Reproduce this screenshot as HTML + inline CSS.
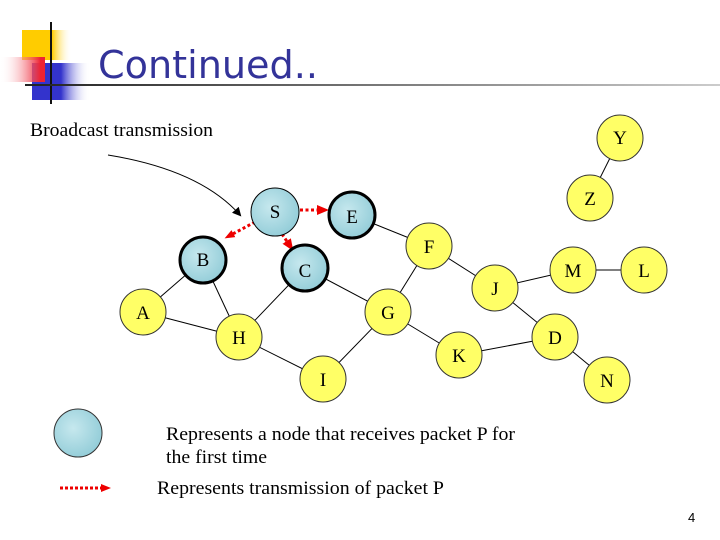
<!DOCTYPE html>
<html><head><meta charset="utf-8"><style>
body{margin:0;width:720px;height:540px;background:#fff;overflow:hidden}
svg{display:block}
</style></head><body>
<svg width="720" height="540" viewBox="0 0 720 540" xmlns="http://www.w3.org/2000/svg">
<defs>
<linearGradient id="yg" x1="0" x2="1"><stop offset="0.6" stop-color="#ffcc00"/><stop offset="1" stop-color="#fff" stop-opacity="0"/></linearGradient>
<linearGradient id="bg" x1="0" x2="1"><stop offset="0.5" stop-color="#3333cc"/><stop offset="1" stop-color="#fff" stop-opacity="0"/></linearGradient>
<linearGradient id="rg" x1="1" x2="0"><stop offset="0.1" stop-color="#ee2233"/><stop offset="1" stop-color="#fff" stop-opacity="0"/></linearGradient>
<linearGradient id="lg" x1="0" x2="1"><stop offset="0" stop-color="#222"/><stop offset="1" stop-color="#ccc"/></linearGradient>
<radialGradient id="cg" cx="0.4" cy="0.4" r="0.7"><stop offset="0" stop-color="#c6e8ee"/><stop offset="1" stop-color="#8ecad6"/></radialGradient>
<marker id="ar" markerUnits="userSpaceOnUse" markerWidth="10" markerHeight="10" refX="5" refY="5" orient="auto"><path d="M0,1 L10,5 L0,9 z" fill="#e00"/></marker>
<marker id="ar2" markerUnits="userSpaceOnUse" markerWidth="12" markerHeight="12" refX="6" refY="6" orient="auto"><path d="M0,1 L12,6 L0,11 z" fill="#e00"/></marker>
<marker id="ak" markerUnits="userSpaceOnUse" markerWidth="9" markerHeight="9" refX="7" refY="4.5" orient="auto"><path d="M0,0 L9,4.5 L0,9 z" fill="#000"/></marker>
</defs>
<rect x="22" y="30" width="50" height="30" fill="url(#yg)"/>
<rect x="32" y="63" width="58" height="37" fill="url(#bg)"/>
<rect x="0" y="57" width="45" height="25" fill="url(#rg)"/>
<line x1="51" y1="22" x2="51" y2="104" stroke="#111" stroke-width="2"/>
<rect x="25" y="84" width="695" height="2" fill="url(#lg)"/>
<text x="98" y="78" font-family="DejaVu Sans, sans-serif" font-size="38" fill="#333399" textLength="220" lengthAdjust="spacingAndGlyphs">Continued..</text>
<g font-family="Liberation Serif, serif" font-size="19" fill="#000">
<text x="30" y="136" textLength="183" lengthAdjust="spacingAndGlyphs">Broadcast transmission</text>
</g>
<path d="M108,155 Q200,170 240,215" fill="none" stroke="#000" stroke-width="1" marker-end="url(#ak)"/>
<g stroke="#000" stroke-width="1">
<line x1="620" y1="138" x2="590" y2="198"/>
<line x1="203" y1="260" x2="143" y2="312"/>
<line x1="203" y1="260" x2="239" y2="337"/>
<line x1="143" y1="312" x2="239" y2="337"/>
<line x1="239" y1="337" x2="305" y2="268"/>
<line x1="239" y1="337" x2="323" y2="379"/>
<line x1="323" y1="379" x2="388" y2="312"/>
<line x1="305" y1="268" x2="388" y2="312"/>
<line x1="352" y1="215" x2="429" y2="246"/>
<line x1="429" y1="246" x2="388" y2="312"/>
<line x1="429" y1="246" x2="495" y2="288"/>
<line x1="495" y1="288" x2="573" y2="270"/>
<line x1="573" y1="270" x2="644" y2="270"/>
<line x1="495" y1="288" x2="555" y2="337"/>
<line x1="388" y1="312" x2="459" y2="355"/>
<line x1="459" y1="355" x2="555" y2="337"/>
<line x1="555" y1="337" x2="607" y2="380"/>
</g>
<g stroke="#e00" stroke-width="3" stroke-dasharray="3,2.5" fill="none">
<line x1="300" y1="210" x2="323" y2="210" marker-end="url(#ar2)"/>
<line x1="255" y1="222" x2="229" y2="236" marker-end="url(#ar)"/>
<line x1="282" y1="234" x2="290" y2="246" marker-end="url(#ar2)"/>
</g>
<g fill="#ffff66" stroke="#333" stroke-width="1">
<circle cx="620" cy="138" r="23"/><circle cx="590" cy="198" r="23"/>
<circle cx="429" cy="246" r="23"/><circle cx="143" cy="312" r="23"/>
<circle cx="239" cy="337" r="23"/><circle cx="388" cy="312" r="23"/>
<circle cx="495" cy="288" r="23"/><circle cx="573" cy="270" r="23"/>
<circle cx="644" cy="270" r="23"/><circle cx="555" cy="337" r="23"/>
<circle cx="459" cy="355" r="23"/><circle cx="323" cy="379" r="23"/>
<circle cx="607" cy="380" r="23"/>
</g>
<g fill="url(#cg)" stroke="#000">
<circle cx="275" cy="212" r="24" stroke-width="1"/>
<circle cx="352" cy="215" r="23" stroke-width="3"/>
<circle cx="203" cy="260" r="23" stroke-width="3"/>
<circle cx="305" cy="268" r="23" stroke-width="3"/>
<circle cx="78" cy="433" r="24" stroke-width="1" stroke="#333"/>
</g>
<g font-family="Liberation Serif, serif" font-size="19" fill="#000" text-anchor="middle">
<text x="275" y="218">S</text><text x="352" y="223">E</text>
<text x="203" y="266">B</text><text x="305" y="277">C</text>
<text x="620" y="144">Y</text><text x="590" y="205">Z</text>
<text x="429" y="253">F</text><text x="143" y="319">A</text>
<text x="239" y="344">H</text><text x="388" y="319">G</text>
<text x="495" y="295">J</text><text x="573" y="277">M</text>
<text x="644" y="277">L</text><text x="555" y="344">D</text>
<text x="459" y="362">K</text><text x="323" y="386">I</text>
<text x="607" y="387">N</text>
</g>
<line x1="60" y1="488" x2="106" y2="488" stroke="#e00" stroke-width="3" stroke-dasharray="3,2" marker-end="url(#ar)"/>
<g font-family="Liberation Serif, serif" font-size="19" fill="#000">
<text x="166" y="440" textLength="349" lengthAdjust="spacingAndGlyphs">Represents a node that receives packet P for</text>
<text x="166" y="463" textLength="101" lengthAdjust="spacingAndGlyphs">the first time</text>
<text x="157" y="494" textLength="287" lengthAdjust="spacingAndGlyphs">Represents transmission of packet P</text>
</g>
<text x="688" y="522" font-family="Liberation Sans, sans-serif" font-size="13" fill="#000">4</text>
</svg>
</body></html>
